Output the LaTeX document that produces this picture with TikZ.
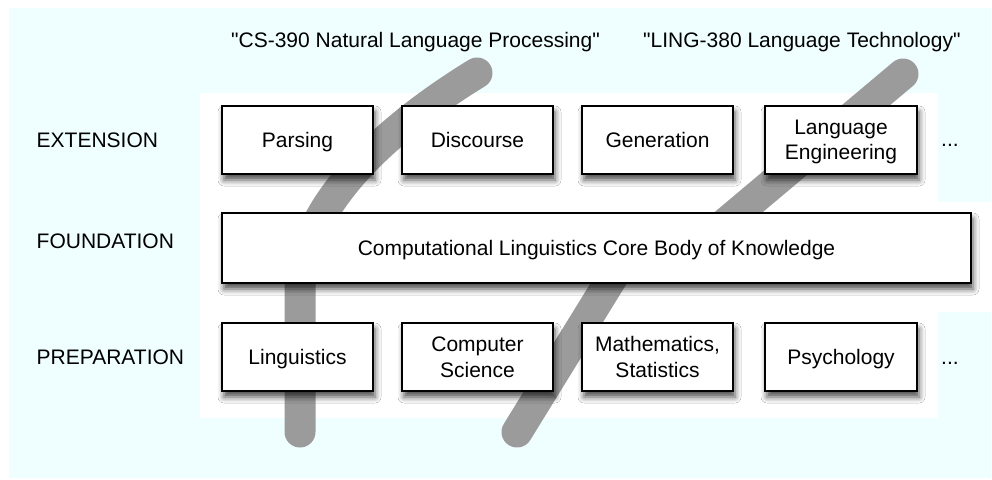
\documentclass[tikz,border=0pt]{standalone}
\usepackage{fontspec}
\setmainfont{Liberation Sans}
\usetikzlibrary{shadows.blur}
\definecolor{bgcyan}{RGB}{239,254,255}
\definecolor{trackgray}{RGB}{155,155,155}
\begin{document}
\begin{tikzpicture}[x=1pt,y=-1pt,
  topic/.style={draw=black, line width=1.4pt, fill=white, minimum width=151pt,
    minimum height=68pt, inner sep=0pt, align=center, text depth=0pt,
    font=\fontsize{21}{25.5}\selectfont,
    blur shadow={shadow xshift=2pt, shadow yshift=-6pt, shadow blur radius=6pt, shadow opacity=70}},
  lbl/.style={font=\fontsize{21}{25.5}\selectfont, inner sep=0pt},
  track/.style={draw=trackgray, line width=31pt, line cap=round, line join=round}]
\useasboundingbox (0,0) rectangle (992,479);
% background
\fill[bgcyan] (9,8) rectangle (991,478);
\fill[white] (200,93) rectangle (938,202);
\fill[white] (200,202) rectangle (991,312);
\fill[white] (200,312) rectangle (938,418);
% course tracks
\coordinate (csTop) at (477,73);
\coordinate (csBot) at (300,432);
\coordinate (lingTop) at (903,74);
\coordinate (lingBot) at (517,432);
\draw[track] (csTop) .. controls (400,120) and (300,200) .. (300,290) -- (csBot);
\draw[track] (lingTop) -- (715,232) -- (620,265) -- (lingBot);
% titles
\node[lbl, anchor=base west] (csTitle) at (231,47) {\textquotedbl CS-390 Natural Language Processing\textquotedbl};
\node[lbl, anchor=base west] (lingTitle) at (643,47) {\textquotedbl LING-380 Language Technology\textquotedbl};
% row labels
\node[lbl, anchor=west] (ext) at (36.5,140) {EXTENSION};
\node[lbl, anchor=west] (fnd) at (36.5,241) {FOUNDATION};
\node[lbl, anchor=west] (prep) at (36.5,357) {PREPARATION};
% extension row
\node[topic] (parsing) at (297.5,140) {Parsing};
\node[topic] (discourse) at (477.5,140) {Discourse};
\node[topic] (generation) at (657.5,140) {Generation};
\node[topic, minimum width=152pt] (langeng) at (841,140) {Language\\Engineering};
\node[lbl, anchor=base west] (dotsA) at (941,146) {...};
% foundation
\node[topic, minimum width=749pt, minimum height=70pt] (core) at (596.5,248) {Computational Linguistics Core Body of Knowledge};
% preparation row
\node[topic] (ling) at (297.5,357) {Linguistics};
\node[topic] (cs) at (477.5,357) {Computer\\Science};
\node[topic] (math) at (657.5,357) {Mathematics,\\Statistics};
\node[topic, minimum width=152pt] (psych) at (841,357) {Psychology};
\node[lbl, anchor=base west] (dotsB) at (941,364) {...};
\end{tikzpicture}
\end{document}
